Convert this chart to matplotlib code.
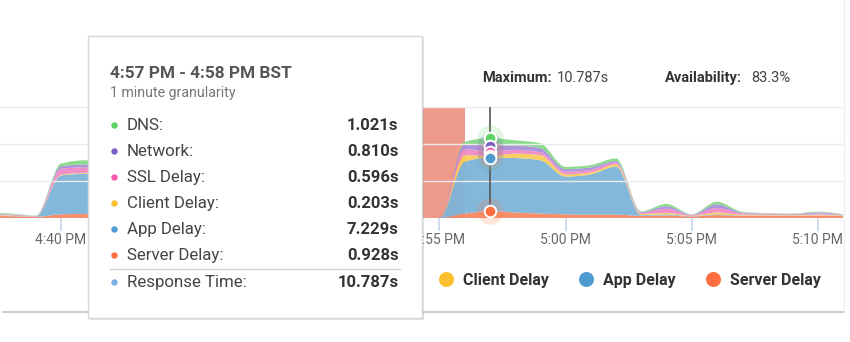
import numpy as np
import pandas as pd
import matplotlib
matplotlib.use("Agg")
import matplotlib.pyplot as plt
import matplotlib.dates as mdates
from matplotlib.path import Path
from matplotlib.patches import PathPatch, Rectangle
from matplotlib.lines import Line2D

plt.rcParams["font.family"] = ["Roboto", "DejaVu Sans"]

# one reading per minute, 4:37 PM .. 5:11 PM
times = pd.date_range("2023-06-14 16:37", "2023-06-14 17:11", freq="1min")

server_delay = [0.30, 0.25, 0.15, 0.50, 0.55, 0.55, 0.50, 0.40, 0.35, 0.30, 0.35, 0.30,
                0.30, 0.30, 0.30, 0.28, 0.25, 0.00, 0.00, 0.60, 0.928, 0.75, 0.60, 0.50,
                0.45, 0.45, 0.30, 0.35, 0.20, 0.40, 0.30, 0.30, 0.30, 0.30, 0.30]
app_delay = [0.05, 0.05, 0.03, 5.25, 5.45, 5.50, 5.30, 2.10, 0.90, 0.60, 1.20, 0.70,
             0.50, 0.80, 0.60, 0.40, 0.30, 0.00, 0.00, 7.00, 7.229, 7.35, 7.20, 5.10,
             5.45, 6.50, 0.10, 0.15, 0.05, 0.10, 0.05, 0.05, 0.05, 0.05, 0.05]
client_delay = [0.05, 0.05, 0.02, 0.10, 0.10, 0.12, 0.10, 0.10, 0.08, 0.08, 0.10, 0.08,
                0.06, 0.08, 0.06, 0.05, 0.05, 0.00, 0.00, 0.90, 0.203, 0.60, 0.70, 0.30,
                0.25, 0.30, 0.15, 0.20, 0.05, 0.25, 0.10, 0.08, 0.05, 0.10, 0.05]
ssl_delay = [0.10, 0.10, 0.05, 0.80, 0.75, 0.70, 0.60, 0.40, 0.35, 0.30, 0.35, 0.30,
             0.25, 0.30, 0.25, 0.20, 0.15, 0.00, 0.00, 0.80, 0.596, 0.50, 0.40, 0.35,
             0.35, 0.25, 0.15, 0.55, 0.10, 0.60, 0.20, 0.12, 0.10, 0.15, 0.05]
network = [0.05, 0.05, 0.02, 0.35, 0.40, 0.40, 0.40, 0.30, 0.25, 0.20, 0.25, 0.20,
           0.15, 0.20, 0.15, 0.10, 0.10, 0.00, 0.00, 0.66, 0.810, 0.60, 0.55, 0.35,
           0.35, 0.20, 0.10, 0.35, 0.05, 0.50, 0.10, 0.05, 0.05, 0.15, 0.03]
dns = [0.15, 0.10, 0.05, 0.35, 0.55, 0.50, 0.40, 0.30, 0.25, 0.20, 0.25, 0.20,
       0.15, 0.20, 0.15, 0.12, 0.10, 0.00, 0.00, 0.34, 1.021, 0.70, 0.65, 0.30,
       0.30, 0.35, 0.10, 0.30, 0.05, 0.35, 0.10, 0.05, 0.05, 0.10, 0.02]

# bottom of the stack first
layers = [
    ("Server Delay", server_delay, "#ff6e40", "#f78a62"),
    ("App Delay", app_delay, "#4e9bd0", "#7db4d9"),
    ("Client Delay", client_delay, "#fbc02d", "#f8cd5a"),
    ("SSL Delay", ssl_delay, "#f25bae", "#ef8ac6"),
    ("Network", network, "#7b61c2", "#a88fda"),
    ("DNS", dns, "#5dd362", "#86d986"),
]
legend_order = ["DNS", "Network", "SSL Delay", "Client Delay", "App Delay", "Server Delay"]

hover_time = pd.Timestamp("2023-06-14 16:57")
down_start = pd.Timestamp("2023-06-14 16:54")
down_end = pd.Timestamp("2023-06-14 16:56")
maximum = "10.787s"
availability = "83.3%"

W, H = 850, 342


def fx(px):
    return px / W


def fy(py):
    return 1 - py / H


def monotone_tangents(x, y):
    # same slopes as d3.curveMonotoneX
    h = np.diff(x)
    s = np.diff(y) / h
    m = np.zeros_like(y)
    for i in range(1, len(y) - 1):
        s0, s1 = s[i - 1], s[i]
        p = (s0 * h[i] + s1 * h[i - 1]) / (h[i - 1] + h[i])
        m[i] = (np.sign(s0) + np.sign(s1)) * min(abs(s0), abs(s1), 0.5 * abs(p))
    m[0] = (3 * s[0] - m[1]) / 2
    m[-1] = (3 * s[-1] - m[-2]) / 2
    return m


def curve_points(x, y):
    m = monotone_tangents(x, y)
    verts = [(x[0], y[0])]
    for i in range(len(x) - 1):
        d = (x[i + 1] - x[i]) / 3
        verts += [(x[i] + d, y[i] + m[i] * d),
                  (x[i + 1] - d, y[i + 1] - m[i + 1] * d),
                  (x[i + 1], y[i + 1])]
    return verts


def smooth_band(x, lower, upper):
    top = curve_points(x, upper)
    bottom = curve_points(x, lower)[::-1]
    verts = top + bottom + [top[0]]
    n = len(top)
    codes = ([Path.MOVETO] + [Path.CURVE4] * (n - 1) + [Path.LINETO]
             + [Path.CURVE4] * (n - 1) + [Path.CLOSEPOLY])
    return Path(verts, codes)


fig = plt.figure(figsize=(8.5, 3.42), dpi=100)
ax = fig.add_axes([0, fy(218), fx(843), 111 / H])

x = mdates.date2num(times)
cum = np.zeros(len(x))
tops = {}
for name, vals, dot, fill in layers:
    upper = cum + np.array(vals)
    ax.add_patch(PathPatch(smooth_band(x, cum, upper), facecolor=fill,
                           edgecolor="none", alpha=0.95, zorder=2))
    tops[name] = upper
    cum = upper

ax.axvspan(down_start, down_end, color="#ee9a8a", zorder=0.5, lw=0)
ax.set_ylim(0, 15)
ax.set_yticks([5, 10, 15])
ax.yaxis.grid(True, color="#ebebeb", lw=1.0, zorder=1)
ax.set_axisbelow(False)
for gl in ax.get_ygridlines():
    gl.set_zorder(1)
ax.tick_params(axis="y", left=False, labelleft=False)
ax.set_xlim(pd.Timestamp("2023-06-14 16:40") - pd.Timedelta(minutes=2.42),
            pd.Timestamp("2023-06-14 16:40") + pd.Timedelta(minutes=31.0))
ax.xaxis.set_major_locator(mdates.MinuteLocator(byminute=range(0, 60, 5)))
ax.xaxis.set_major_formatter(mdates.DateFormatter("%-I:%M %p"))
ax.tick_params(axis="x", length=9, width=1.2, color="#c9d6ee", pad=1.5,
               labelsize=10, labelcolor="#666666")
for sp in ax.spines.values():
    sp.set_visible(False)
ax.patch.set_alpha(0)

# hover crosshair and markers
ax.axvline(hover_time, color="#555555", lw=1.2, zorder=3)
hi = list(times).index(hover_time)
for name, vals, dot, fill in reversed(layers):
    v = tops[name][hi]
    ax.scatter([hover_time], [v], s=360, color=dot, alpha=0.18, lw=0, zorder=4,
               clip_on=False)
for name, vals, dot, fill in reversed(layers):
    v = tops[name][hi]
    ax.scatter([hover_time], [v], s=70, color=dot, edgecolor="white", lw=1.4,
               zorder=5, clip_on=False)

# summary line above the chart
fig.text(fx(482), fy(82), "Maximum:", weight="bold", size=10.5, color="#333333")
fig.text(fx(557), fy(82), maximum, size=10.5, color="#444444")
fig.text(fx(665), fy(82), "Availability:", weight="bold", size=10.5, color="#333333")
fig.text(fx(751), fy(82), availability, size=10.5, color="#444444")

# legend row
colors = {name: dot for name, vals, dot, fill in layers}
handles = [Line2D([], [], ls="", marker="o", markersize=10.8, color=colors[n],
                  markeredgewidth=0) for n in legend_order]
leg = fig.legend(handles, legend_order, loc="center right",
                 bbox_to_anchor=(fx(821), fy(280)), ncol=6, frameon=False,
                 prop={"weight": "bold", "size": 11.5}, labelcolor="#333333",
                 handlelength=1.0, handletextpad=0.55, columnspacing=1.85,
                 borderpad=0, borderaxespad=0)
leg.set_zorder(2)

# panel borders
fig.add_artist(Line2D([fx(3), fx(843)], [fy(312), fy(312)], color="#c8c8c8", lw=1.3))
fig.add_artist(Line2D([fx(844), fx(844)], [fy(0), fy(312)], color="#eeeeee", lw=1))

# tooltip for the hovered minute
fig.add_artist(Rectangle((fx(90), fy(320)), fx(334), 282 / H, color="black",
                         alpha=0.10, lw=0, zorder=9))
fig.add_artist(Rectangle((fx(88), fy(318)), fx(334), 282 / H, facecolor="white",
                         edgecolor="#d6d6d6", lw=1, zorder=10))
fig.text(fx(110), fy(78), "4:57 PM - 4:58 PM BST", weight="bold", size=12.4,
         color="#555555", zorder=11)
fig.text(fx(110), fy(97.5), "1 minute granularity", size=10.2, color="#777777",
         zorder=11)
rows = [(n, colors[n], dict((l[0], l[1]) for l in layers)[n][hi]) for n in legend_order]
rows.append(("Response Time", "#79aee6", tops["DNS"][hi]))
for i, (name, dot, val) in enumerate(rows):
    base = 130 + 26 * i + (1 if i == 6 else 0)
    fig.add_artist(Line2D([fx(114)], [fy(base - 5)], ls="", marker="o", markersize=4.6,
                          color=dot, markeredgewidth=0, zorder=11))
    fig.text(fx(126.5), fy(base), name + ":", size=12.2, color="#444444", zorder=11)
    fig.text(fx(398.5), fy(base), f"{val:.3f}s", size=12, weight="bold",
             color="#333333", ha="right", zorder=11)
fig.add_artist(Line2D([fx(110), fx(400)], [fy(268.5), fy(268.5)], color="#d2d2d2",
                      lw=1, zorder=11))

fig.savefig("out.png", dpi=100)
